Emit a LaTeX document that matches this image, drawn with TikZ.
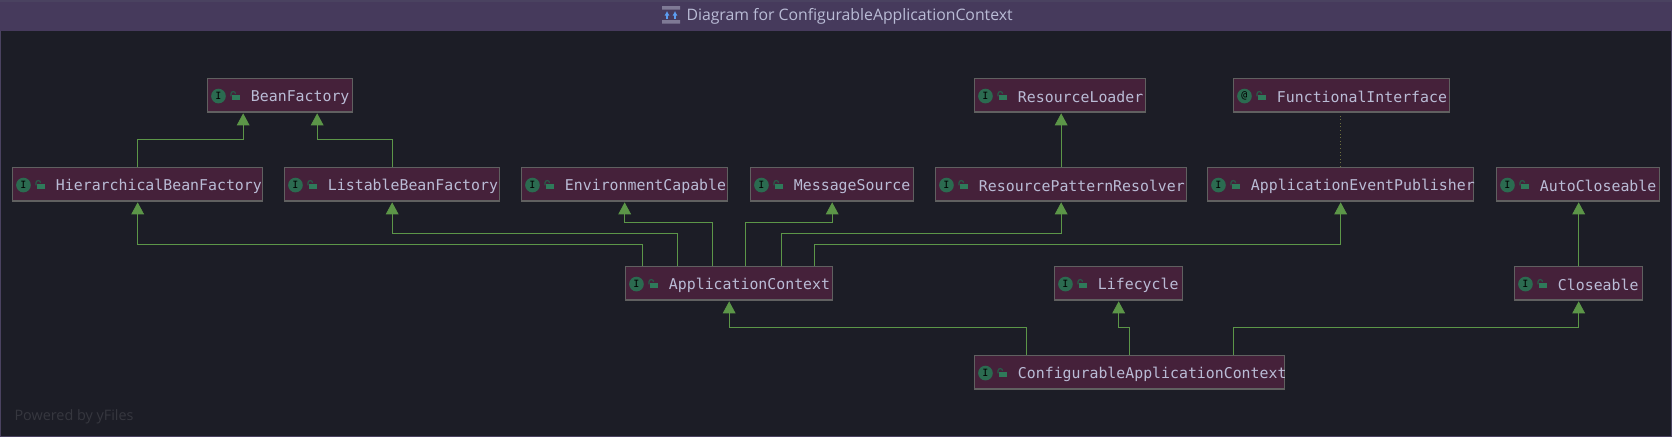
\documentclass[tikz,border=0pt]{standalone}
\usepackage{fontspec}
\setmainfont{Open Sans}
\setmonofont{DejaVu Sans Mono}
\usetikzlibrary{arrows.meta}

\definecolor{panelbg}{HTML}{1C1D26}
\definecolor{barbg}{HTML}{463A5C}
\definecolor{edgeline}{HTML}{4A4260}
\definecolor{boxbg}{HTML}{45213A}
\definecolor{boxline}{HTML}{606060}
\definecolor{labeltext}{HTML}{BABCD6}
\definecolor{arrowgreen}{HTML}{5C9648}
\definecolor{icongreen}{HTML}{2B6B50}
\definecolor{lockgreen}{HTML}{2F7A5A}
\definecolor{lockhook}{HTML}{2A5A48}
\definecolor{dotline}{HTML}{6E7040}
\definecolor{wmark}{HTML}{36373F}
\definecolor{baricon}{HTML}{7F7A95}
\definecolor{bararrow}{HTML}{5C9CF0}

\tikzset{
  every picture/.style={line width=0.75pt},
  typebox/.style={draw=boxline,fill=boxbg,line width=1pt,anchor=north west,inner sep=0pt,minimum height=25.5pt},
  typelabel/.style={anchor=west,inner sep=0pt,text=labeltext,font=\ttfamily\fontsize{11.15}{13}\selectfont},
  typeicon/.style={circle,fill=icongreen,inner sep=0pt,minimum size=11pt,text=black,font=\ttfamily\fontsize{7.5}{8}\selectfont},
  extends/.style={draw=arrowgreen,line width=0.6pt,-{Triangle[width=9.5pt,length=9pt,fill=arrowgreen]}},
  annotated/.style={draw=dotline,line width=0.7pt,dotted},
}

\begin{document}
\begin{tikzpicture}[x=0.75pt,y=0.75pt,yscale=-1,xscale=1]
\useasboundingbox (0,0) rectangle (1672,437);
%window
\fill[edgeline] (0,0) rectangle (1672,437);
\fill[panelbg] (1.5,30) rectangle (1670.5,435.5);
\fill[barbg] (0,1.5) rectangle (1672,30.7);
\node[anchor=west,inner sep=0pt,text=labeltext,font=\fontsize{11.85}{14}\selectfont] (title) at (686,16.5) {Diagram for ConfigurableApplicationContext};
%title icon
\fill[baricon] (662,6) rectangle (680,9.5) (662,20) rectangle (680,23.5);
\draw[color=bararrow,line width=1.1pt,-{Latex[length=3.5pt,width=4pt]}] (667,19) -- (667,11);
\draw[color=bararrow,line width=1.1pt,-{Latex[length=3.5pt,width=4pt]}] (675,19) -- (675,11);
\node[anchor=west,inner sep=0pt,text=wmark,font=\fontsize{10.8}{13}\selectfont] (yfiles) at (14,416.5) {Powered by yFiles};

%boxes
\foreach \n/\x/\y/\w/\g/\t in {
  beanfactory/207/78/145/I/BeanFactory,
  resourceloader/974/78/171/I/ResourceLoader,
  functional/1233/78/216/@/FunctionalInterface,
  hierarchical/12/167/250/I/HierarchicalBeanFactory,
  listable/284/167/215/I/ListableBeanFactory,
  environment/521/167/206/I/EnvironmentCapable,
  messagesource/750/167/163/I/MessageSource,
  resolver/935/167/251/I/ResourcePatternResolver,
  publisher/1207/167/266/I/ApplicationEventPublisher,
  autocloseable/1496/167/163/I/AutoCloseable,
  appcontext/625/266/207/I/ApplicationContext,
  lifecycle/1054/266/128/I/Lifecycle,
  closeable/1514/266/128/I/Closeable,
  configurable/974/355/310/I/ConfigurableApplicationContext}{
  \node[typebox,minimum width=\w*0.75pt] (\n) at (\x,\y) {};
  \draw[draw=boxline,line width=1pt] ([yshift=-1.6pt]\n.south west) -- ([yshift=-1.6pt]\n.south east);
  \node[typeicon] (\n icon) at ([xshift=8.6pt,yshift=0.3pt]\n.west) {\g};
  \fill[lockgreen] ([xshift=18.75pt,yshift=-0.6pt]\n.west) rectangle ([xshift=24.75pt,yshift=3.6pt]\n.west);
  \draw[lockhook,line width=0.9pt] ([xshift=18pt,yshift=0.6pt]\n.west) -- ([xshift=18pt,yshift=-1.4pt]\n.west) arc[start angle=180,end angle=360,radius=1.7pt];
  \node[typelabel] (\n text) at ([xshift=32.6pt,yshift=1.2pt]\n.west) {\t};
}

%inheritance
\draw[extends] (hierarchical.north) -- ++(0,-28) -| ([xshift=-27.75pt]beanfactory.south);
\draw[extends] (listable.north) -- ++(0,-28) -| ([xshift=27.75pt]beanfactory.south);
\draw[extends] (resolver.north) -- (resourceloader.south -| resolver.north);
\draw[annotated] (publisher.north) -- (functional.south -| publisher.north);
\draw[extends] ([xshift=12.75pt]appcontext.north west) -- ++(0,-22) -| (hierarchical.south);
\draw[extends] ([xshift=39pt]appcontext.north west) -- ++(0,-33) -| (listable.south);
\draw[extends] ([xshift=65.25pt]appcontext.north west) -- ++(0,-44) -| (environment.south);
\draw[extends] ([xshift=90pt]appcontext.north west) -- ++(0,-44) -| (messagesource.south);
\draw[extends] ([xshift=117pt]appcontext.north west) -- ++(0,-33) -| (resolver.south);
\draw[extends] ([xshift=141.75pt]appcontext.north west) -- ++(0,-22) -| (publisher.south);
\draw[extends] (closeable.north) -- (autocloseable.south -| closeable.north);
\draw[extends] ([xshift=39pt]configurable.north west) -- ++(0,-28) -| (appcontext.south);
\draw[extends] (configurable.north) -- ++(0,-28) -| (lifecycle.south);
\draw[extends] ([xshift=194.25pt]configurable.north west) -- ++(0,-28) -| (closeable.south);
\end{tikzpicture}
\end{document}
